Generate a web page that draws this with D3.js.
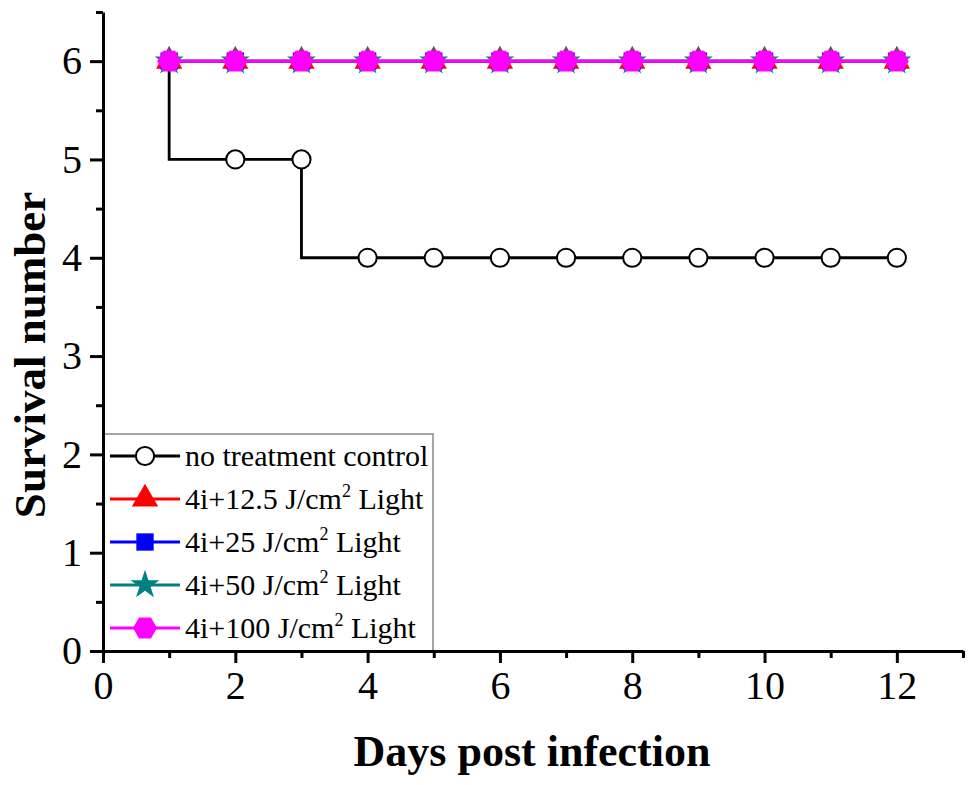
<!DOCTYPE html>
<html><head><meta charset="utf-8">
<script src="https://cdn.jsdelivr.net/npm/d3@7"></script>
<style>body{margin:0;background:#fff}svg{display:block}</style>
</head><body>
<svg id="c" width="975" height="785"></svg>
<script>
const days = [1,2,3,4,5,6,7,8,9,10,11,12];
const control = [6,5,5,4,4,4,4,4,4,4,4,4];
const light12 = [6,6,6,6,6,6,6,6,6,6,6,6];
const light25 = [6,6,6,6,6,6,6,6,6,6,6,6];
const light50 = [6,6,6,6,6,6,6,6,6,6,6,6];
const light100 = [6,6,6,6,6,6,6,6,6,6,6,6];
const xTicks = [0,2,4,6,8,10,12];
const yTicks = [0,1,2,3,4,5,6];
const seriesNames = ["no treatment control","4i+12.5 J/cm","4i+25 J/cm","4i+50 J/cm","4i+100 J/cm"];

const svg = d3.select("#c");
const x = d3.scaleLinear().domain([0,13]).range([103,963]);
const y = d3.scaleLinear().domain([0,6.5]).range([651,12]);
const font = "'Liberation Serif','Times New Roman',serif";

const series = [
  {name:seriesNames[0], vals:control, color:"#000", sym:"circle", curve:d3.curveStepBefore, lw:2.8},
  {name:seriesNames[1], vals:light12, color:"#ff0000", sym:"triangle", curve:d3.curveLinear, lw:3},
  {name:seriesNames[2], vals:light25, color:"#0000ff", sym:"square", curve:d3.curveLinear, lw:3},
  {name:seriesNames[3], vals:light50, color:"#008080", sym:"star", curve:d3.curveLinear, lw:3},
  {name:seriesNames[4], vals:light100, color:"#ff00ff", sym:"hex", curve:d3.curveLinear, lw:3}
];

function hexPath(r){
  const pts=[];
  for(let i=0;i<6;i++){const a=Math.PI/3*i; pts.push([r*Math.cos(a), r*Math.sin(a)]);}
  return "M"+pts.map(p=>p.join(",")).join("L")+"Z";
}
function symbolPath(s){
  if(s==="circle") return d3.symbol(d3.symbolCircle, 260)();
  if(s==="triangle") return d3.symbol(d3.symbolTriangle, 300)();
  if(s==="square") return d3.symbol(d3.symbolSquare, 300)();
  if(s==="star") return d3.symbol(d3.symbolStar, 260)();
  return hexPath(12);
}
function drawMarker(g, s, cx, cy){
  const p = g.append("path").attr("d", symbolPath(s.sym)).attr("transform",`translate(${cx},${cy})`);
  if(s.sym==="circle") p.attr("fill","#fff").attr("stroke","#000").attr("stroke-width",2);
  else p.attr("fill",s.color);
}

series.forEach(s=>{
  const line = d3.line().x((d,i)=>x(days[i])).y(d=>y(d)).curve(s.curve);
  svg.append("path").attr("d",line(s.vals)).attr("fill","none").attr("stroke",s.color).attr("stroke-width",s.lw);
});
series.forEach(s=>{
  const g = svg.append("g");
  s.vals.forEach((v,i)=>drawMarker(g,s,x(days[i]),y(v)));
});

// legend
const lg = svg.append("g");
lg.append("rect").attr("x",x(0)).attr("y",434).attr("width",330).attr("height",y(0)-434)
  .attr("fill","#fff").attr("stroke","#888").attr("stroke-width",1.5);
series.forEach((s,i)=>{
  const cy = 456 + i*43;
  lg.append("line").attr("x1",110).attr("x2",180).attr("y1",cy).attr("y2",cy).attr("stroke",s.color).attr("stroke-width",s.lw);
  drawMarker(lg,s,145,cy);
  const t = lg.append("text").attr("x",185).attr("y",cy+10).attr("font-family",font).attr("font-size",30).attr("fill","#000");
  if(i===0) t.text(s.name);
  else {
    t.append("tspan").text(s.name);
    t.append("tspan").attr("dy",-12).attr("font-size",18).text("2");
    t.append("tspan").attr("dy",12).text(" Light");
  }
});

// axes
const xAxis = d3.axisBottom(x).tickValues(xTicks).tickSize(12).tickSizeOuter(0).tickPadding(8).tickFormat(d3.format("d"));
const gx = svg.append("g").attr("transform",`translate(0,${y(0)})`).call(xAxis);
gx.select(".domain").attr("stroke-width",3);
gx.selectAll(".tick line").attr("stroke-width",3);
gx.selectAll("text").attr("font-family",font).attr("font-size",40).attr("fill","#000");
const gxm = svg.append("g").attr("transform",`translate(0,${y(0)})`)
  .call(d3.axisBottom(x).tickValues([1,3,5,7,9,11,13]).tickSize(7).tickFormat(""));
gxm.select(".domain").remove();
gxm.selectAll(".tick line").attr("stroke-width",3);

const yAxis = d3.axisLeft(y).tickValues(yTicks).tickSize(13).tickSizeOuter(0).tickPadding(8).tickFormat(d3.format("d"));
const gy = svg.append("g").attr("transform",`translate(${x(0)},0)`).call(yAxis);
gy.select(".domain").attr("stroke-width",3);
gy.selectAll(".tick line").attr("stroke-width",3);
gy.selectAll("text").attr("font-family",font).attr("font-size",40).attr("fill","#000");
const gym = svg.append("g").attr("transform",`translate(${x(0)},0)`)
  .call(d3.axisLeft(y).tickValues([0.5,1.5,2.5,3.5,4.5,5.5,6.5]).tickSize(7).tickFormat(""));
gym.select(".domain").remove();
gym.selectAll(".tick line").attr("stroke-width",3);

// titles
svg.append("text").attr("x",532).attr("y",766).attr("text-anchor","middle")
  .attr("font-family",font).attr("font-weight","bold").attr("font-size",44).text("Days post infection");
svg.append("text").attr("transform",`translate(45,355) rotate(-90)`).attr("text-anchor","middle")
  .attr("font-family",font).attr("font-weight","bold").attr("font-size",45).text("Survival number");
</script>
</body></html>
